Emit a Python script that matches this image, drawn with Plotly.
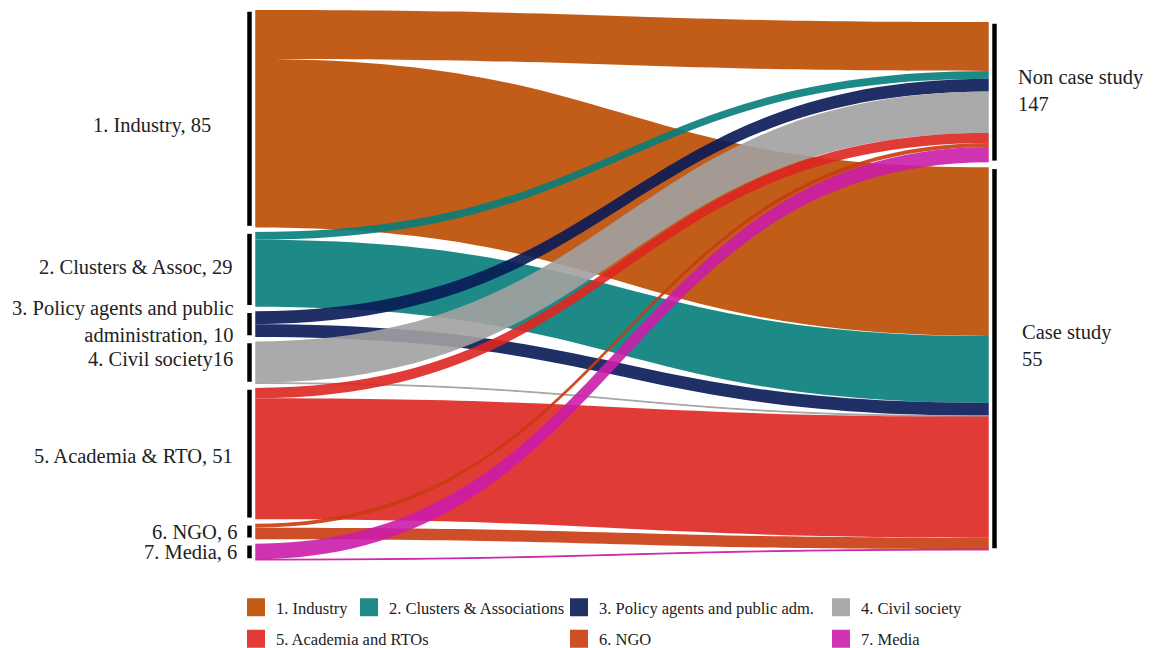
import plotly.graph_objects as go

# ---------------- data ----------------
source_labels = [
    "1. Industry, 85",
    "2. Clusters & Assoc, 29",
    "3. Policy agents and public<br>administration, 10",
    "4. Civil society16",
    "5. Academia & RTO, 51",
    "6. NGO, 6",
    "7. Media, 6",
]
target_labels = ["Non case study<br>147", "Case study<br>55"]
legend_names = [
    "1. Industry",
    "2. Clusters & Associations",
    "3. Policy agents and public adm.",
    "4. Civil society",
    "5. Academia and RTOs",
    "6. NGO",
    "7. Media",
]
to_non_case = [19, 3, 5, 16, 4, 1.5, 6]
to_case = [65.5, 26, 5, 0.3, 47, 4.5, 0.3]

# ---------------- style / layout constants (screen px, page has 8px body margin) ----------------
colors = ["#C15D15", "#1F8A87", "#213166", "#AAAAAA", "#E13C37", "#CE4F27", "#D034B1"]
FIG_W, FIG_H = 1153, 648
OFF = 8  # default page body margin
TOP_PX, BOT_PX = 10 - OFF, 560 - OFF
LEFT_X_PX, RIGHT_X_PX = 249.5 - OFF, 994.5 - OFF
PAD = 4.5
RIGHT_TOP_OFF = 12
RIGHT_GAP = 5
FONT = "Liberation Serif, Times New Roman, Tinos, DejaVu Serif, serif"
ALPHA = 0.9


def rgba(hexc, a):
    r, g, b = (int(hexc[i:i + 2], 16) for i in (1, 3, 5))
    r2, g2, b2 = [max(0, min(255, round((c - (1 - a) * 255) / a))) for c in (r, g, b)]
    return f"rgba({r2},{g2},{b2},{a})"


n_src = len(source_labels)
H = BOT_PX - TOP_PX
left_vals = [a + b for a, b in zip(to_non_case, to_case)]
right_vals = [sum(to_non_case), sum(to_case)]
total = sum(left_vals)
ky = (H - (n_src - 1) * PAD) / total

left_centres_px = []
off = 0.0
for v in left_vals:
    h = v * ky
    left_centres_px.append(off + h / 2)
    off += h + PAD
right_centres_px = []
off = RIGHT_TOP_OFF
for v in right_vals:
    h = v * ky
    right_centres_px.append(off + h / 2)
    off += h + RIGHT_GAP

XL, XR = 0.001, 0.999
W = (RIGHT_X_PX - LEFT_X_PX) / (XR - XL)
X0 = LEFT_X_PX - XL * W

node_x = [XL] * n_src + [XR] * 2
node_y = [c / H for c in left_centres_px] + [c / H for c in right_centres_px]

src, tgt, val, lcol = [], [], [], []
for i in range(n_src):
    for j, arr in enumerate((to_non_case, to_case)):
        src.append(i)
        tgt.append(n_src + j)
        val.append(arr[i])
        lcol.append(rgba(colors[i], ALPHA))

fig = go.Figure()
fig.add_trace(go.Sankey(
    arrangement="fixed",
    domain=dict(x=[X0 / FIG_W, (X0 + W) / FIG_W],
                y=[1 - BOT_PX / FIG_H, 1 - TOP_PX / FIG_H]),
    node=dict(label=[""] * (n_src + 2), x=node_x, y=node_y, pad=PAD,
              thickness=8, color="black", line=dict(color="white", width=3.5)),
    link=dict(source=src, target=tgt, value=val, color=lcol,
              line=dict(width=0)),
    hoverinfo="skip",
    textfont=dict(size=1, color="rgba(0,0,0,0)"),
))

legend_of = ["legend", "legend2", "legend3", "legend4", "legend", "legend3", "legend4"]
for i, name in enumerate(legend_names):
    fig.add_trace(go.Scatter(
        x=[None], y=[None], mode="markers", name=name,
        marker=dict(symbol="square", size=16, color=colors[i],
                    line=dict(color=colors[i], width=2)),
        legend=legend_of[i], legendgroup=str(i), showlegend=True,
        hoverinfo="skip",
    ))

annotations = []
label_dx = [213, 235, 235, 235, 235, 239, 239]
label_dy = [7, -2, -3, -3, 2, 0, 0]
for i, lab in enumerate(source_labels):
    ypx = TOP_PX + left_centres_px[i] + label_dy[i]
    annotations.append(dict(
        text=lab, x=(label_dx[i] - OFF) / FIG_W, y=1 - ypx / FIG_H, xref="paper", yref="paper",
        xanchor="right", yanchor="middle", align="right", showarrow=False,
        font=dict(family=FONT, size=20.5, color="#222222"),
    ))
right_dx = [1016, 1020]
right_dy = [-2, -13]
for j, lab in enumerate(target_labels):
    ypx = TOP_PX + right_centres_px[j] + right_dy[j]
    annotations.append(dict(
        text=lab, x=(right_dx[j] - OFF) / FIG_W, y=1 - ypx / FIG_H, xref="paper", yref="paper",
        xanchor="left", yanchor="middle", align="left", showarrow=False,
        font=dict(family=FONT, size=20.5, color="#222222"),
    ))

legend_style = dict(orientation="v", xanchor="left", yanchor="top",
                    font=dict(family=FONT, size=16.5, color="#222222"),
                    bgcolor="rgba(0,0,0,0)", tracegroupgap=7,
                    y=1 - (590 - OFF) / FIG_H)
col_x = [236, 349, 559, 821]
fig.update_layout(
    width=FIG_W, height=FIG_H,
    margin=dict(l=0, r=0, t=0, b=0, autoexpand=False),
    paper_bgcolor="white", plot_bgcolor="white",
    xaxis=dict(visible=False), yaxis=dict(visible=False),
    annotations=annotations,
    showlegend=True,
    legend=dict(x=(col_x[0] - OFF) / FIG_W, **legend_style),
    legend2=dict(x=(col_x[1] - OFF) / FIG_W, **legend_style),
    legend3=dict(x=(col_x[2] - OFF) / FIG_W, **legend_style),
    legend4=dict(x=(col_x[3] - OFF) / FIG_W, **legend_style),
)

fig.write_html("out.html")
